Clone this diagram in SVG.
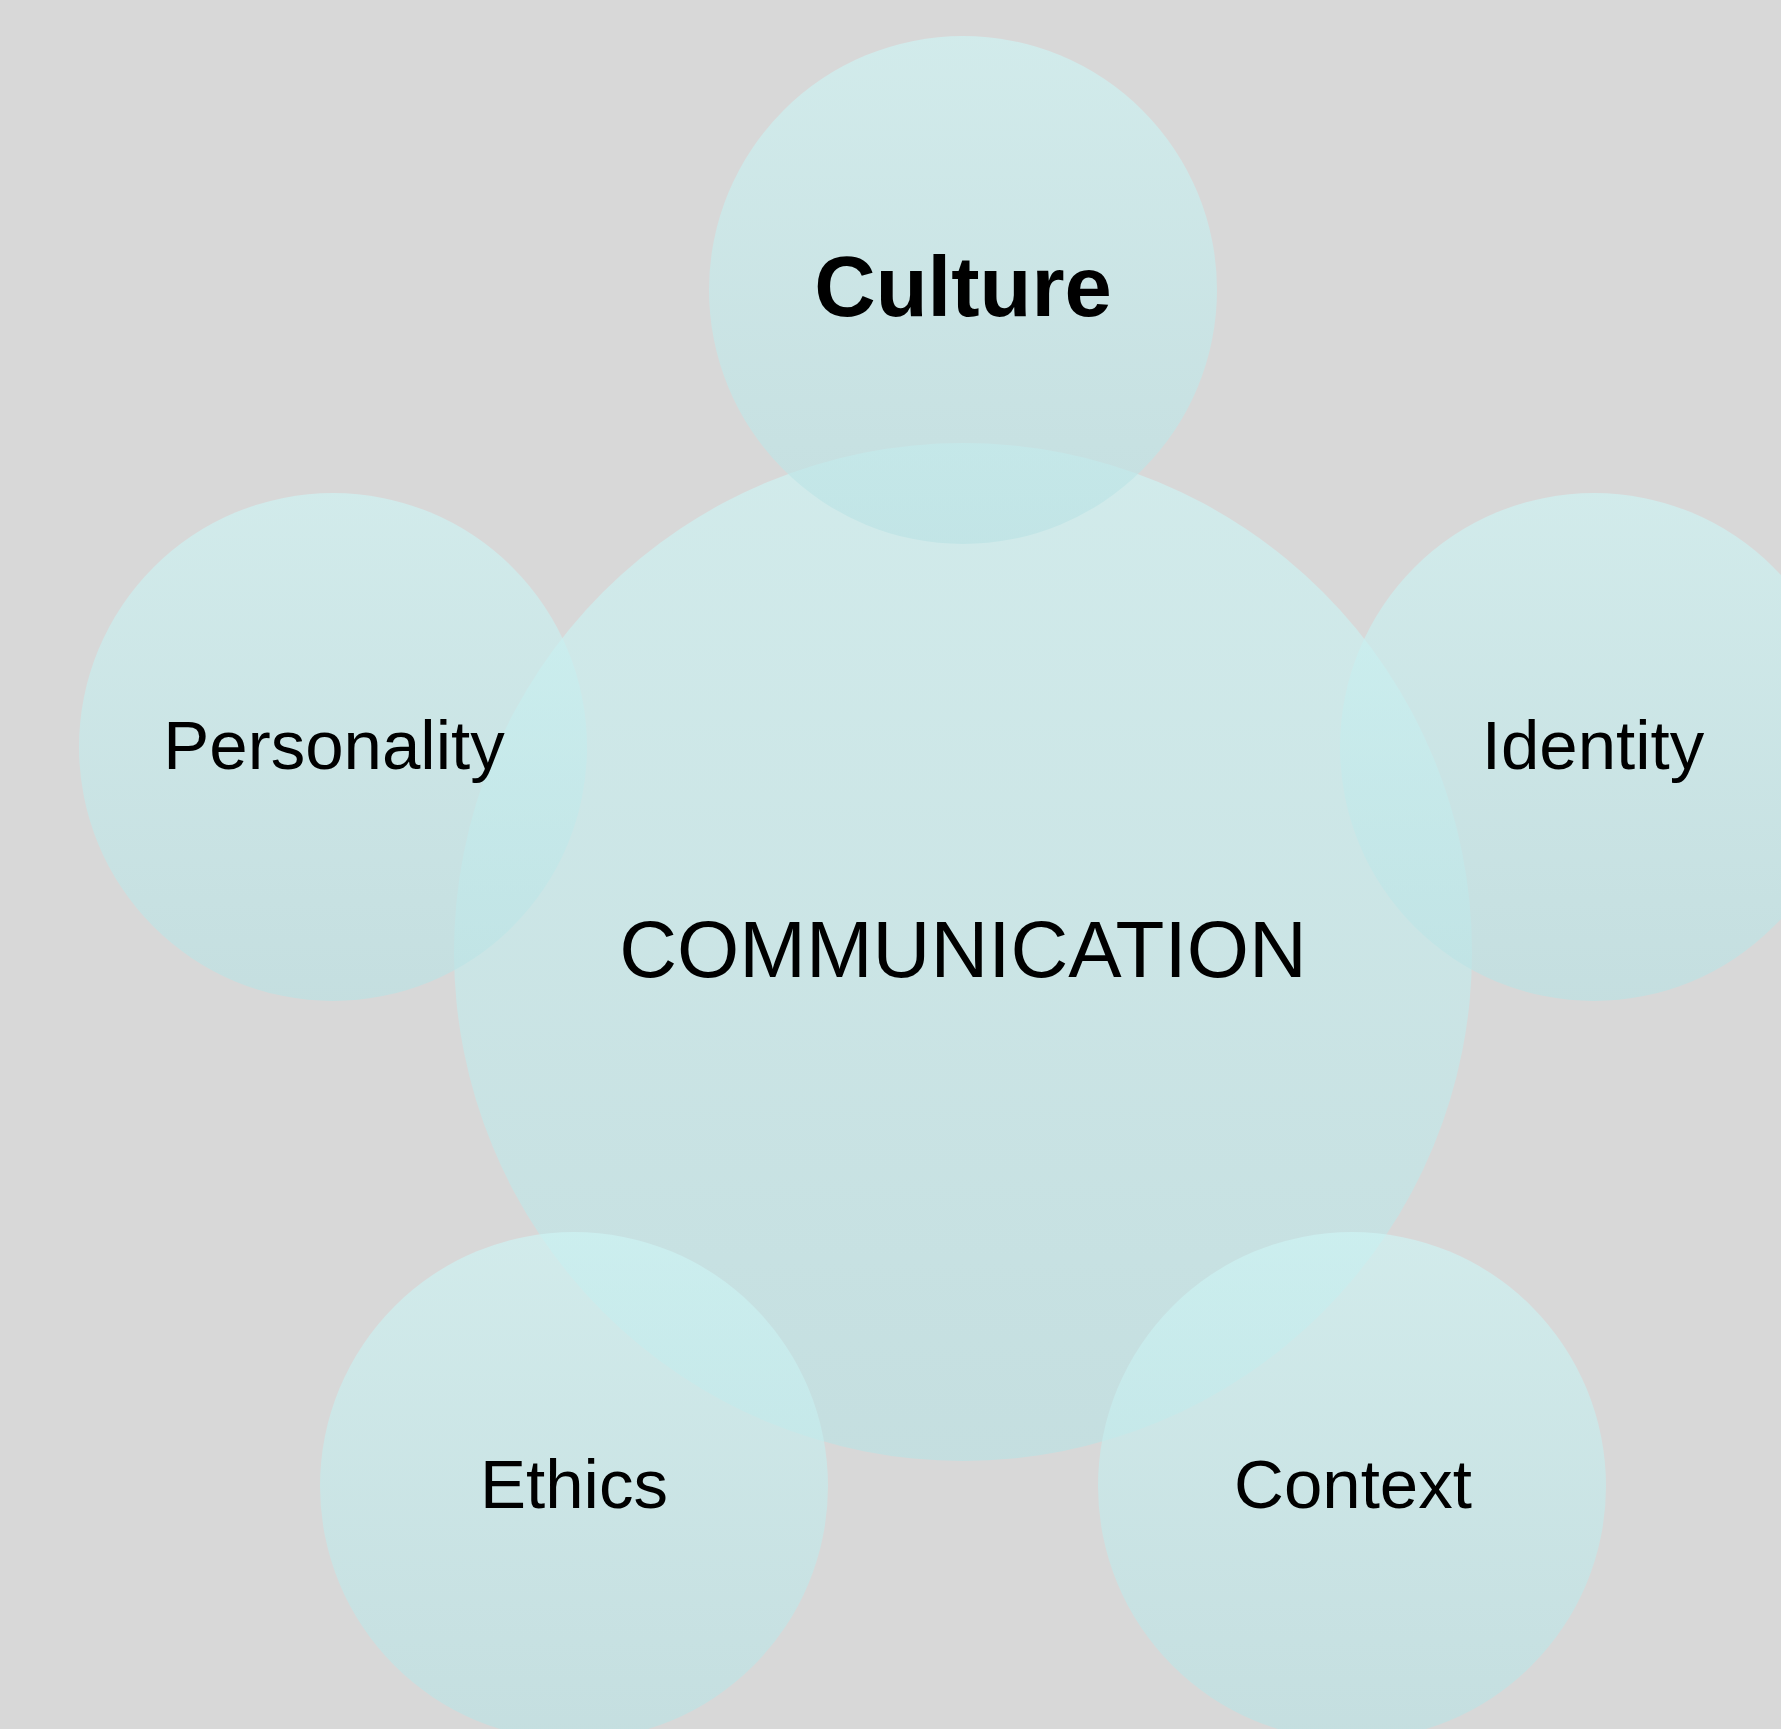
<svg xmlns="http://www.w3.org/2000/svg" width="1781" height="1729" viewBox="0 0 1781 1729">
<defs>
<linearGradient id="g" x1="0" y1="0" x2="0" y2="1">
<stop offset="0" stop-color="rgb(206,245,245)"/>
<stop offset="1" stop-color="rgb(186,226,228)"/>
</linearGradient>
<style>
.c{fill:url(#g);fill-opacity:0.65}
.t{font-family:"Liberation Sans",Arial,sans-serif;font-size:69px;fill:#000;text-anchor:middle}
.b{font-weight:bold;font-size:85px}
.m{font-size:80px}
</style>
</defs>
<rect width="1781" height="1729" fill="#d8d8d8"/>
<g id="connectors"/>
<g id="communication">
<circle class="c" cx="963" cy="952" r="509"/>
<text class="t m" x="963" y="977">COMMUNICATION</text>
</g>
<g id="culture">
<circle class="c" cx="963" cy="290" r="254"/>
<text class="t b" x="963" y="316">Culture</text>
</g>
<g id="personality">
<circle class="c" cx="333" cy="747" r="254"/>
<text class="t" x="334" y="769">Personality</text>
</g>
<g id="identity">
<circle class="c" cx="1594" cy="747" r="254"/>
<text class="t" x="1593" y="769">Identity</text>
</g>
<g id="ethics">
<circle class="c" cx="574" cy="1486" r="254"/>
<text class="t" x="574" y="1508">Ethics</text>
</g>
<g id="context">
<circle class="c" cx="1352" cy="1486" r="254"/>
<text class="t" x="1353" y="1508">Context</text>
</g>
</svg>
